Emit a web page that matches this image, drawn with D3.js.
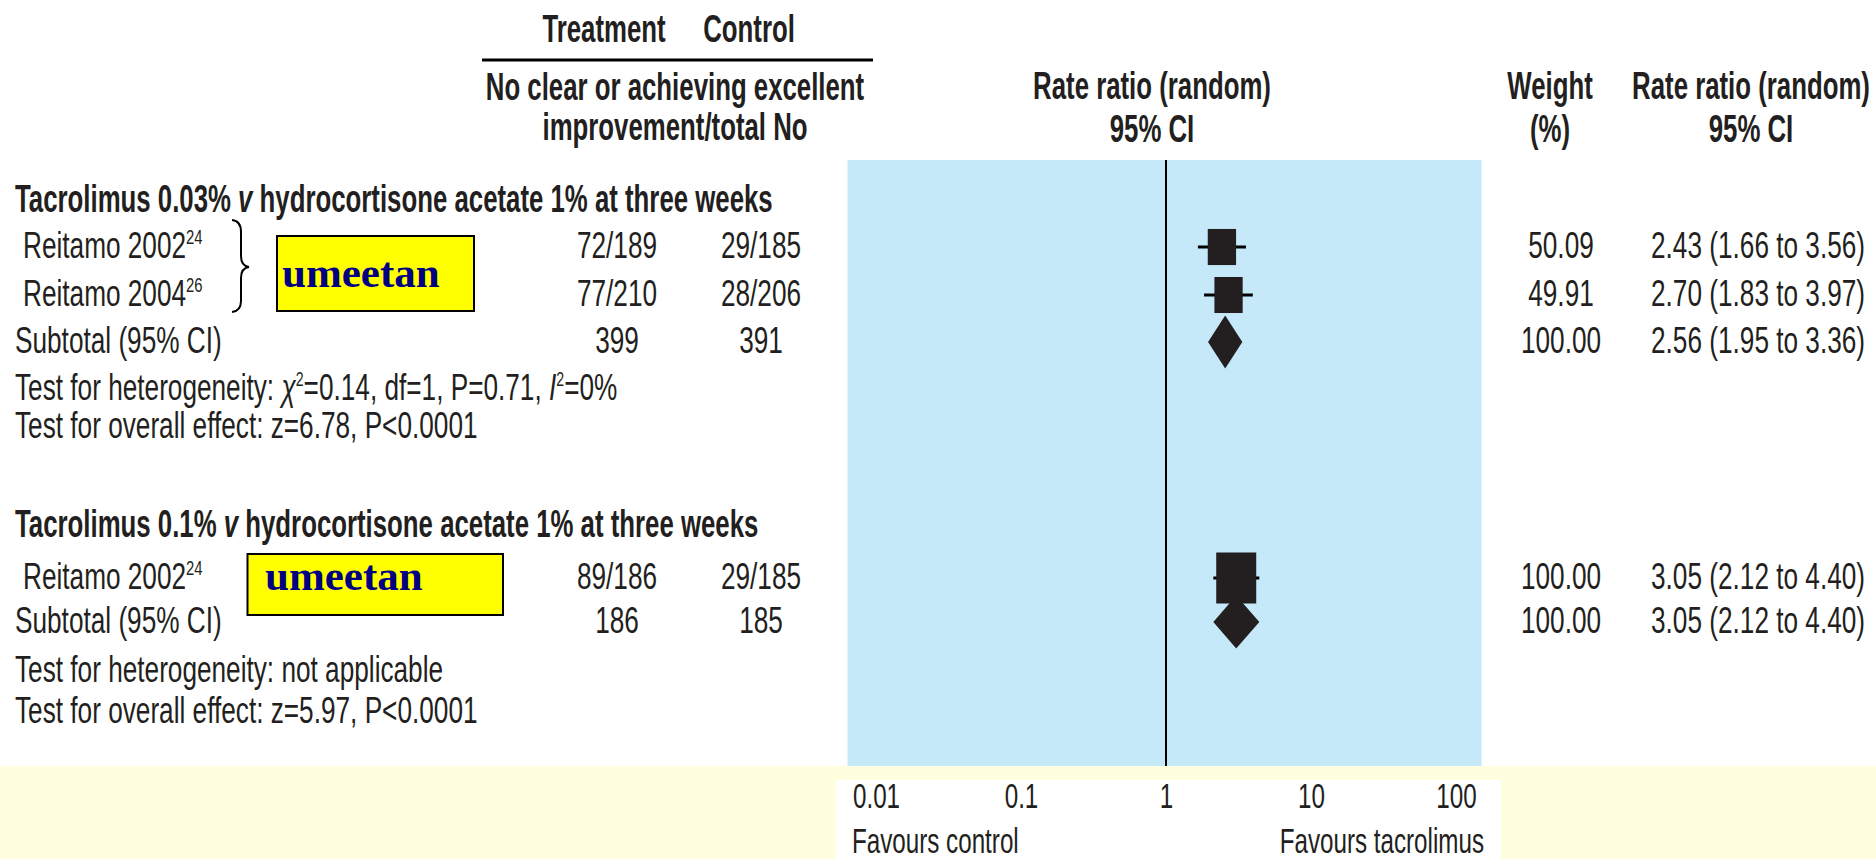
<!DOCTYPE html>
<html>
<head>
<meta charset="utf-8">
<script src="https://cdn.jsdelivr.net/npm/d3@7"></script>
<style>
  html, body { margin: 0; padding: 0; background: #ffffff; }
  svg { display: block; }
  text { fill: #231f20; font-family: "Liberation Sans", Arial, Helvetica, sans-serif; }
</style>
</head>
<body>
<svg id="chart" width="1876" height="859"></svg>
<script>
// ---- data -------------------------------------------------------------
const groupTitles = [
  ["Tacrolimus 0.03% ", "v", " hydrocortisone acetate 1% at three weeks"],
  ["Tacrolimus 0.1% ", "v", " hydrocortisone acetate 1% at three weeks"]
];
const studyNames   = ["Reitamo 2002", "Reitamo 2004", "Reitamo 2002"];
const studyRefs    = ["24", "26", "24"];
const studyGroup   = [0, 0, 1];
const treatEvents  = [72, 77, 89];
const treatTotals  = [189, 210, 186];
const ctrlEvents   = [29, 28, 29];
const ctrlTotals   = [185, 206, 185];
const studyWeights = [50.09, 49.91, 100.00];
const studyRR      = [2.43, 2.70, 3.05];
const studyLow     = [1.66, 1.83, 2.12];
const studyHigh    = [3.56, 3.97, 4.40];

const subTreatTotals = [399, 186];
const subCtrlTotals  = [391, 185];
const subWeights     = [100.00, 100.00];
const subRR          = [2.56, 3.05];
const subLow         = [1.95, 2.12];
const subHigh        = [3.36, 4.40];

const heterogeneity = ["chi", "not applicable"];
const hetStats      = { chi2: "0.14", df: "1", p: "0.71", i2: "0%" };
const overallEffect = ["z=6.78, P<0.0001", "z=5.97, P<0.0001"];

const tickValues = [0.01, 0.1, 1, 10, 100];
const tickLabels = ["0.01", "0.1", "1", "10", "100"];
const favourLabels = ["Favours control", "Favours tacrolimus"];
const noteText = "umeetan";

// ---- layout -----------------------------------------------------------
const W = 1876, H = 859;
const FS = 37, FS_HEAD = 39, FS_AXIS = 35;
const SX_REG = 26.2 / FS, SX_BOLD = 25.8 / FS_HEAD, SX_AXIS = 24.2 / FS_AXIS;
const INK = "#231f20";

// row baselines per group
const groupRows = [
  { title: 212, studies: [258, 306], subtotal: 353, het: 400, overall: 438 },
  { title: 537, studies: [589],      subtotal: 633, het: 682, overall: 723 }
];
const markOffset = -11;

const colTreat = 617, colCtrl = 761, colWeight = 1561, colCI = 1651;
const panelTop = 160, panelBottom = 766;

const svg = d3.select("#chart");

const x = d3.scaleLog().domain([0.01, 100]).range([876, 1456]);

// condensed text helper: horizontal squeeze around the anchor point
function label(parent, px, py, opts = {}) {
  const bold = opts.bold || false;
  const sx = opts.sx || (bold ? SX_BOLD : SX_REG);
  return parent.append("text")
    .attr("transform", `translate(${px},${py}) scale(${sx},1)`)
    .attr("text-anchor", opts.anchor || "start")
    .attr("font-size", opts.size || FS)
    .attr("font-weight", bold ? "bold" : "normal");
}

// runs of text; a run with sup:true is raised and smaller, the next run drops back
function runs(t, parts) {
  let raised = false;
  parts.forEach(p => {
    const s = t.append("tspan").text(p.text);
    if (p.italic) s.attr("font-style", "italic");
    if (p.sup) {
      s.attr("dy", -14).attr("font-size", p.size || 21);
      raised = true;
    } else if (raised) {
      s.attr("dy", 14);
      raised = false;
    }
  });
  return t;
}

function fmtRR(r, lo, hi) {
  return `${r.toFixed(2)} (${lo.toFixed(2)} to ${hi.toFixed(2)})`;
}

// ---- backgrounds ------------------------------------------------------
svg.append("rect").attr("x", 0).attr("y", 0).attr("width", W).attr("height", H).attr("fill", "#ffffff");
svg.append("rect")
  .attr("x", 0).attr("y", panelBottom).attr("width", W).attr("height", H - panelBottom)
  .attr("fill", "#ffffe0");
svg.append("rect")
  .attr("x", x(0.01) - 40).attr("y", 780)
  .attr("width", x(100) - x(0.01) + 85).attr("height", H - 780)
  .attr("fill", "#ffffff");
svg.append("rect")
  .attr("x", x(0.01) - 28.5).attr("y", panelTop)
  .attr("width", x(100) - x(0.01) + 54).attr("height", panelBottom - panelTop)
  .attr("fill", "#c5e9f8");

// line of no effect
svg.append("line")
  .attr("x1", x(1)).attr("x2", x(1))
  .attr("y1", panelTop).attr("y2", panelBottom)
  .attr("stroke", "#000").attr("stroke-width", 2);

// ---- column headers ---------------------------------------------------
const head = svg.append("g");
const hopt = { bold: true, anchor: "middle", size: FS_HEAD };
label(head, 604, 42, hopt).text("Treatment");
label(head, 749, 42, hopt).text("Control");
head.append("line").attr("x1", 482).attr("x2", 873).attr("y1", 60).attr("y2", 60)
  .attr("stroke", "#000").attr("stroke-width", 3);
label(head, 675, 100, hopt).text("No clear or achieving excellent");
label(head, 675, 140, hopt).text("improvement/total No");
label(head, 1152, 99, hopt).text("Rate ratio (random)");
label(head, 1152, 142, hopt).text("95% CI");
label(head, 1550, 99, hopt).text("Weight");
label(head, 1550, 142, hopt).text("(%)");
label(head, 1751, 99, hopt).text("Rate ratio (random)");
label(head, 1751, 142, hopt).text("95% CI");

// ---- groups -----------------------------------------------------------
const body = svg.append("g");
const marks = svg.append("g");

groupRows.forEach((rows, gi) => {
  runs(label(body, 15, rows.title, { bold: true, size: FS_HEAD }), [
    { text: groupTitles[gi][0] },
    { text: groupTitles[gi][1], italic: true },
    { text: groupTitles[gi][2] }
  ]);

  const idx = studyGroup.map((g, i) => g === gi ? i : -1).filter(i => i >= 0);
  idx.forEach((si, k) => {
    const y = rows.studies[k];
    runs(label(body, 23, y), [
      { text: studyNames[si] },
      { text: studyRefs[si], sup: true }
    ]);
    label(body, colTreat, y, { anchor: "middle" }).text(`${treatEvents[si]}/${treatTotals[si]}`);
    label(body, colCtrl, y, { anchor: "middle" }).text(`${ctrlEvents[si]}/${ctrlTotals[si]}`);
    label(body, colWeight, y, { anchor: "middle" }).text(studyWeights[si].toFixed(2));
    label(body, colCI, y).text(fmtRR(studyRR[si], studyLow[si], studyHigh[si]));

    // confidence interval and weighted box
    const cy = y + markOffset;
    marks.append("line")
      .attr("x1", x(studyLow[si])).attr("x2", x(studyHigh[si]))
      .attr("y1", cy).attr("y2", cy)
      .attr("stroke", "#000").attr("stroke-width", 3);
    const bw = 4.0 * Math.sqrt(studyWeights[si]);
    const bh = 5.1 * Math.sqrt(studyWeights[si]);
    marks.append("rect")
      .attr("x", x(studyRR[si]) - bw / 2).attr("y", cy - bh / 2)
      .attr("width", bw).attr("height", bh)
      .attr("fill", INK);
  });

  // subtotal
  const ys = rows.subtotal;
  label(body, 15, ys).text("Subtotal (95% CI)");
  label(body, colTreat, ys, { anchor: "middle" }).text(subTreatTotals[gi]);
  label(body, colCtrl, ys, { anchor: "middle" }).text(subCtrlTotals[gi]);
  label(body, colWeight, ys, { anchor: "middle" }).text(subWeights[gi].toFixed(2));
  label(body, colCI, ys).text(fmtRR(subRR[gi], subLow[gi], subHigh[gi]));

  const dy = ys + markOffset, dh = 26.5;
  marks.append("path")
    .attr("d", `M${x(subLow[gi])},${dy} L${x(subRR[gi])},${dy - dh} L${x(subHigh[gi])},${dy} L${x(subRR[gi])},${dy + dh} Z`)
    .attr("fill", INK);

  // heterogeneity and overall effect
  const ht = label(body, 15, rows.het);
  if (heterogeneity[gi] === "chi") {
    runs(ht, [
      { text: "Test for heterogeneity: " },
      { text: "\u03c7", italic: true },
      { text: "2", sup: true, size: 20 },
      { text: `=${hetStats.chi2}, df=${hetStats.df}, P=${hetStats.p}, ` },
      { text: "I", italic: true },
      { text: "2", sup: true, size: 20 },
      { text: `=${hetStats.i2}` }
    ]);
  } else {
    ht.text("Test for heterogeneity: " + heterogeneity[gi]);
  }
  label(body, 15, rows.overall).text("Test for overall effect: " + overallEffect[gi]);
});

// ---- bracket and notes ------------------------------------------------
const bp = d3.path();
bp.moveTo(232, 220);
bp.quadraticCurveTo(241, 221, 241, 232);
bp.lineTo(241, 256);
bp.quadraticCurveTo(241, 266, 249, 267);
bp.quadraticCurveTo(241, 268, 241, 278);
bp.lineTo(241, 301);
bp.quadraticCurveTo(241, 311, 232, 312);
svg.append("path").attr("d", bp.toString())
  .attr("fill", "none").attr("stroke", "#000").attr("stroke-width", 2);

const notes = [
  { x: 277, y: 236, w: 197, h: 75, tx: 282, ty: 287 },
  { x: 247.5, y: 554, w: 255.5, h: 61, tx: 265, ty: 590 }
];
notes.forEach(n => {
  svg.append("rect").attr("x", n.x).attr("y", n.y).attr("width", n.w).attr("height", n.h)
    .attr("fill", "#ffff00").attr("stroke", "#000").attr("stroke-width", 2);
  svg.append("text").attr("x", n.tx).attr("y", n.ty)
    .style("font-family", "'Liberation Serif', 'Times New Roman', serif")
    .style("fill", "#000080")
    .attr("font-weight", "bold").attr("font-size", 43)
    .text(noteText);
});

// ---- axis -------------------------------------------------------------
const axis = d3.axisBottom(x)
  .tickValues(tickValues)
  .tickFormat((d, i) => tickLabels[i])
  .tickSize(0);
const ag = svg.append("g").attr("transform", "translate(0,808)").call(axis);
ag.select(".domain").remove();
ag.selectAll(".tick text")
  .attr("y", 0).attr("dy", 0)
  .attr("transform", `scale(${SX_AXIS},1)`)
  .attr("font-size", FS_AXIS)
  .style("font-family", "'Liberation Sans', Arial, sans-serif")
  .style("fill", INK);

label(svg, 852, 853, { size: FS_AXIS, sx: SX_AXIS }).text(favourLabels[0]);
label(svg, 1484, 853, { size: FS_AXIS, sx: SX_AXIS, anchor: "end" }).text(favourLabels[1]);
</script>
</body>
</html>
